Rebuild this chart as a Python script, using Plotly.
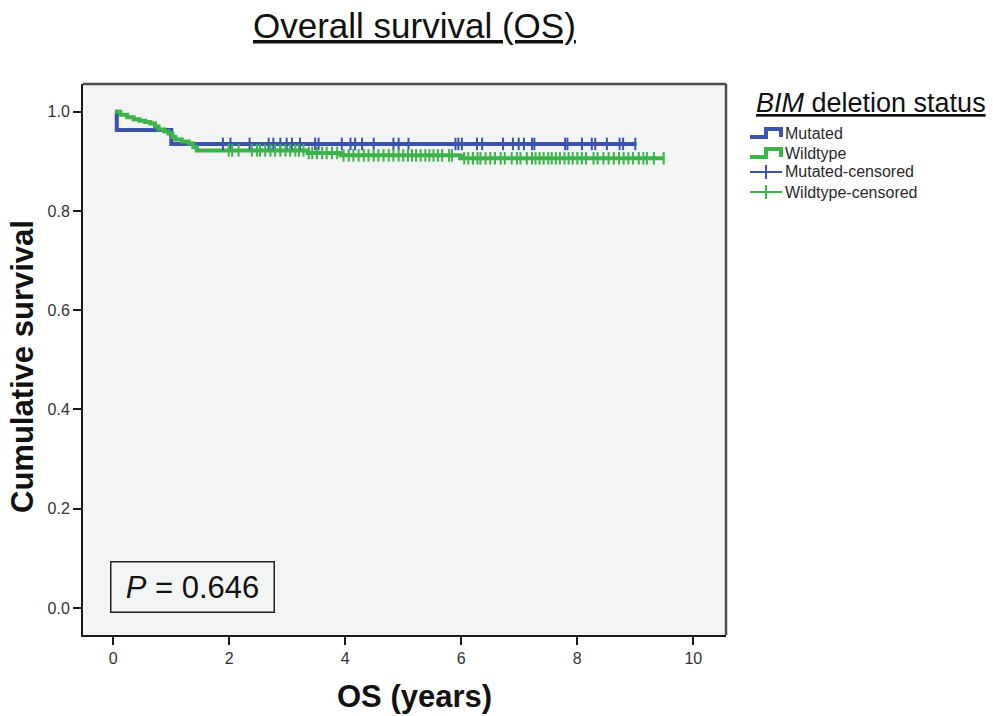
import plotly.graph_objects as go

# ---------------- data ----------------
# Kaplan-Meier step curves: time (years) where each survival level starts, and that level
mut_times = [0.03, 0.06, 1.00, 9.02]
mut_surv = [1.000, 0.963, 0.935, 0.935]

wt_times = [0.03, 0.12, 0.24, 0.35, 0.45, 0.55, 0.64, 0.72, 0.78, 0.88, 0.95,
            1.02, 1.07, 1.18, 1.30, 1.38, 1.44, 3.35, 3.92, 5.98, 9.49]
wt_surv = [1.000, 0.994, 0.989, 0.985, 0.982, 0.979, 0.976, 0.970, 0.964, 0.960, 0.956,
           0.949, 0.944, 0.940, 0.936, 0.929, 0.922, 0.917, 0.912, 0.906, 0.906]

# censored observation times (years)
mut_cens = [1.89, 2.02, 2.35, 2.68, 2.76, 2.88, 2.99, 3.08, 3.22, 3.48, 3.54, 3.94,
            4.09, 4.17, 4.29, 4.49, 4.83, 4.92, 5.09, 5.90, 5.95, 6.01, 6.27, 6.36,
            6.72, 6.89, 6.99, 7.08, 7.22, 7.26, 7.79, 7.83, 8.08, 8.25, 8.31, 8.51,
            8.73, 8.79, 9.00]
wt_cens = [1.99, 2.05, 2.16, 2.39, 2.48, 2.53, 2.62, 2.71, 2.79, 2.88, 2.97, 3.05,
           3.14, 3.20, 3.28, 3.37, 3.43, 3.51, 3.60, 3.68, 3.77, 3.86, 3.97, 4.06,
           4.14, 4.23, 4.32, 4.40, 4.49, 4.57, 4.66, 4.75, 4.83, 4.92, 5.00, 5.08,
           5.15, 5.22, 5.30, 5.38, 5.45, 5.52, 5.60, 5.67, 5.79, 5.84, 6.05, 6.12,
           6.20, 6.28, 6.33, 6.42, 6.50, 6.58, 6.68, 6.75, 6.87, 6.96, 7.02, 7.13,
           7.22, 7.28, 7.35, 7.42, 7.50, 7.56, 7.63, 7.70, 7.78, 7.85, 7.92, 8.00,
           8.08, 8.15, 8.28, 8.35, 8.45, 8.54, 8.63, 8.72, 8.80, 8.88, 8.96, 9.06,
           9.14, 9.20, 9.32, 9.49]

x_ticks = [0, 2, 4, 6, 8, 10]
y_ticks = [0.0, 0.2, 0.4, 0.6, 0.8, 1.0]
y_tick_labels = ["0.0", "0.2", "0.4", "0.6", "0.8", "1.0"]

title_text = "Overall survival (OS)"
x_title = "OS (years)"
y_title = "Cumulative survival"
legend_title = "<i>BIM</i> deletion status"
legend_labels = ["Mutated", "Wildtype", "Mutated-censored", "Wildtype-censored"]
p_text = "<i>P</i> = 0.646"

BLUE = "#3C53AE"
GREEN = "#3BB44A"
FONT = "Arial, Liberation Sans, Helvetica, sans-serif"


def level_at(times, surv, t):
    s = surv[0]
    for ti, si in zip(times, surv):
        if ti <= t:
            s = si
    return s


fig = go.Figure()

fig.add_trace(go.Scatter(x=mut_times, y=mut_surv, mode="lines", name=legend_labels[0],
                         showlegend=False,
                         line=dict(color=BLUE, width=4, shape="hv")))
fig.add_trace(go.Scatter(x=wt_times, y=wt_surv, mode="lines", name=legend_labels[1],
                         showlegend=False,
                         line=dict(color=GREEN, width=4, shape="hv")))
fig.add_trace(go.Scatter(x=mut_cens, y=[level_at(mut_times, mut_surv, t) for t in mut_cens],
                         mode="lines+markers", name=legend_labels[2], showlegend=False,
                         line=dict(color=BLUE, width=2, shape="hv"),
                         marker=dict(symbol="line-ns", size=9,
                                     line=dict(color=BLUE, width=2))))
fig.add_trace(go.Scatter(x=wt_cens, y=[level_at(wt_times, wt_surv, t) for t in wt_cens],
                         mode="lines+markers", name=legend_labels[3], showlegend=False,
                         line=dict(color=GREEN, width=2, shape="hv"),
                         marker=dict(symbol="line-ns", size=9,
                                     line=dict(color=GREEN, width=2))))

axis_common = dict(showgrid=False, zeroline=False, showline=True, mirror=False,
                   linecolor="#1a1a1a", linewidth=2, ticks="outside", ticklen=8,
                   tickwidth=2, tickcolor="#1a1a1a",
                   tickfont=dict(family=FONT, size=16, color="#333333"))

fig.update_xaxes(range=[-0.522, 10.564], tickvals=x_ticks,
                 ticktext=[str(v) for v in x_ticks], **axis_common)
fig.update_yaxes(range=[-0.0544, 1.0558], tickvals=y_ticks, ticktext=y_tick_labels,
                 **axis_common)

pl, pr, pt, pb = 83, 993 - 267, 84, 716 - 81
pw, ph = pr - pl, pb - pt


def px_to_paper(xp, yp):
    return (xp - pl) / pw, (pb - yp) / ph


def ann(text, xp, yp, size, xanchor="center", color="#111111", **kw):
    x, y = px_to_paper(xp, yp)
    return dict(text=text, x=x, y=y, xref="paper", yref="paper", xanchor=xanchor,
                yanchor="middle", showarrow=False,
                font=dict(family=FONT, size=size, color=color), **kw)


def path_px(points):
    segs = []
    for i, (xp, yp) in enumerate(points):
        x, y = px_to_paper(xp, yp)
        segs.append(("M" if i == 0 else "L") + f"{x:.5f},{y:.5f}")
    return " ".join(segs)


annotations = [
    ann("<u>" + title_text + "</u>", 414, 25, 35),
    ann("<b>" + x_title + "</b>", 414, 696, 31),
    ann("<b>" + y_title + "</b>", 22, 367, 31, textangle=-90),
    ann(p_text, 192, 587, 31, bordercolor="#222222", borderwidth=1.5,
        bgcolor="rgba(0,0,0,0)", width=160, height=47),
    ann("<u>" + legend_title + "</u>", 755, 103, 27, xanchor="left", borderpad=0),
]

shapes = [
    # top and right frame edges (greyer than the axis lines)
    dict(type="line", xref="paper", yref="paper", x0=0, y0=1, x1=1, y1=1,
         line=dict(color="#4d4d4d", width=2.5)),
    dict(type="line", xref="paper", yref="paper", x0=1, y0=0, x1=1, y1=1,
         line=dict(color="#4d4d4d", width=2.5)),
]

# custom legend (glyphs + labels)
row_y = [133, 153, 172, 192]
row_col = [BLUE, GREEN, BLUE, GREEN]
for i, (label, yc, col) in enumerate(zip(legend_labels, row_y, row_col)):
    annotations.append(ann(label, 784, yc, 16, xanchor="left", color="#2a2a2a",
                           borderpad=0))
    if i < 2:
        shapes.append(dict(type="path", xref="paper", yref="paper",
                           path=path_px([(750, yc + 4), (766, yc + 4), (766, yc - 4),
                                         (781, yc - 4), (781, yc + 4)]),
                           line=dict(color=col, width=4)))
    else:
        shapes.append(dict(type="path", xref="paper", yref="paper",
                           path=path_px([(750, yc), (782, yc)]),
                           line=dict(color=col, width=2)))
        shapes.append(dict(type="path", xref="paper", yref="paper",
                           path=path_px([(766, yc - 7), (766, yc + 7)]),
                           line=dict(color=col, width=2)))

fig.update_layout(
    width=993, height=716,
    margin=dict(l=pl, r=993 - pr, t=pt, b=716 - pb, autoexpand=False),
    paper_bgcolor="white",
    plot_bgcolor="#F3F5F5",
    font=dict(family=FONT, color="#111111"),
    showlegend=False,
    annotations=annotations,
    shapes=shapes,
)

fig.write_html("out.html", config={"displayModeBar": False},
               post_script="document.body.style.margin='0';")
